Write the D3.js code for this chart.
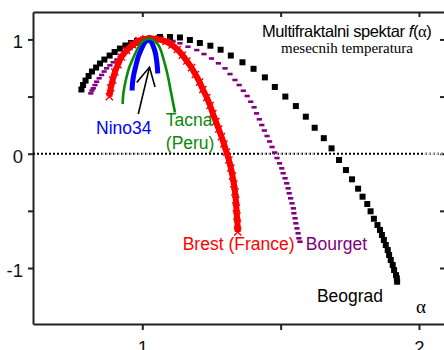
<!DOCTYPE html>
<html lang="sr">
<head>
<meta charset="utf-8">
<title>Multifraktalni spektar</title>
<style>
  body { margin: 0; background: #fff; }
  svg { display: block; }
  .axis path, .axis line { stroke: #222; stroke-width: 2; }
  .axis text { font: 18.5px "Liberation Sans", Arial, sans-serif; fill: #111; }
  .lbl { font: 17.5px "Liberation Sans", Arial, sans-serif; }
</style>
</head>
<body>
<svg id="chart" width="444" height="350"></svg>
<script src="https://cdn.jsdelivr.net/npm/d3@7"></script>
<script>
// spectra, [alpha, f(alpha)]
var beograd = [[0.780,0.562],[0.786,0.601],[0.795,0.640],[0.806,0.680],[0.818,0.719],[0.833,0.754],
  [0.847,0.789],[0.863,0.824],[0.882,0.859],[0.900,0.890],[0.919,0.920],[0.939,0.947],[0.959,0.969],
  [0.981,0.986],[1.003,0.999],[1.026,1.008],[1.064,1.021],[1.100,1.021],[1.136,1.017],[1.172,0.995],
  [1.208,0.969],[1.246,0.945],[1.283,0.910],[1.320,0.859],[1.362,0.800],[1.402,0.743],[1.443,0.668],
  [1.479,0.584],[1.517,0.500],[1.555,0.417],[1.591,0.324],[1.623,0.227],[1.656,0.136],[1.684,0.047],
  [1.711,-0.055],[1.736,-0.143],[1.758,-0.224],[1.780,-0.306],[1.796,-0.376],[1.813,-0.440],
  [1.825,-0.504],[1.837,-0.569],[1.850,-0.624],[1.859,-0.667],[1.866,-0.711],[1.873,-0.755],
  [1.880,-0.799],[1.887,-0.842],[1.892,-0.886],[1.898,-0.930],[1.905,-0.974],[1.910,-1.018],
  [1.917,-1.062],[1.920,-1.090],[1.921,-1.120]];

var bourget = [[0.814,0.528],[0.818,0.553],[0.823,0.572],[0.829,0.601],[0.835,0.630],[0.844,0.660],
  [0.853,0.689],[0.862,0.719],[0.871,0.747],[0.883,0.773],[0.895,0.800],[0.908,0.824],[0.920,0.849],
  [0.931,0.872],[0.944,0.892],[0.956,0.916],[0.967,0.936],[0.981,0.955],[0.995,0.973],[1.010,0.986],
  [1.028,0.995],[1.057,0.995],[1.082,0.992],[1.111,0.986],[1.136,0.966],[1.165,0.936],[1.197,0.907],
  [1.223,0.872],[1.250,0.833],[1.275,0.791],[1.299,0.747],[1.317,0.697],[1.335,0.645],[1.350,0.601],
  [1.365,0.551],[1.379,0.505],[1.392,0.455],[1.404,0.406],[1.413,0.353],[1.423,0.301],[1.432,0.251],
  [1.441,0.203],[1.451,0.155],[1.460,0.107],[1.469,0.059],[1.478,0.010],[1.487,-0.038],[1.496,-0.084],
  [1.504,-0.128],[1.509,-0.171],[1.516,-0.215],[1.522,-0.259],[1.527,-0.303],[1.531,-0.346],
  [1.536,-0.390],[1.541,-0.434],[1.546,-0.478],[1.548,-0.521],[1.552,-0.565],[1.555,-0.609],
  [1.559,-0.653],[1.563,-0.696],[1.566,-0.740],[1.570,-0.770]];

var brest = [[0.881,0.500],[0.886,0.575],[0.893,0.645],[0.901,0.715],[0.912,0.780],[0.925,0.846],
  [0.943,0.903],[0.965,0.955],[0.988,0.990],[1.013,1.005],[1.039,1.005],[1.064,0.997],[1.086,0.982],
  [1.107,0.951],[1.127,0.912],[1.145,0.863],[1.161,0.811],[1.178,0.754],[1.192,0.693],[1.207,0.627],
  [1.219,0.562],[1.233,0.492],[1.245,0.422],[1.255,0.352],[1.266,0.282],[1.276,0.216],[1.286,0.150],
  [1.295,0.085],[1.304,0.015],[1.313,-0.055],[1.320,-0.125],[1.326,-0.195],[1.331,-0.265],
  [1.335,-0.335],[1.338,-0.405],[1.340,-0.475],[1.342,-0.545],[1.344,-0.615],[1.345,-0.685]];

var tacna = [[0.929,0.435],[0.931,0.514],[0.936,0.592],[0.943,0.671],[0.952,0.750],[0.964,0.820],
  [0.977,0.890],[0.991,0.951],[1.004,0.990],[1.019,1.005],[1.033,1.003],[1.046,0.982],[1.059,0.947],
  [1.068,0.899],[1.075,0.842],[1.082,0.781],[1.089,0.715],[1.095,0.649],[1.100,0.584],[1.105,0.522],
  [1.110,0.461],[1.115,0.400],[1.118,0.360]];

var nino34 = [[0.963,0.553],[0.965,0.627],[0.970,0.702],[0.977,0.772],[0.985,0.846],[0.996,0.912],
  [1.008,0.969],[1.021,0.995],[1.031,0.982],[1.040,0.938],[1.047,0.885],[1.051,0.829],[1.054,0.767],
  [1.056,0.702]];

var xTicks = [1, 1.5, 2];
var yTicks = [-1, -0.5, 0, 0.5, 1];
var xLabels = {1: "1", 2: "2"};
var yLabels = {"-1": "-1", "0": "0", "1": "1"};

// light grey stretches on the zero line
var zeroGrey = [[0.855, 1.040], [1.425, 1.624], [2.020, 2.094]];

// arrow pointing at Nino34: tail, tip, two head ends
var arrow = [[0.9855, 0.347], [1.026, 0.758]];
var arrowHead = [[0.980, 0.623], [1.026, 0.758], [1.046, 0.584]];

var svg = d3.select("#chart");
var pLeft = 33, pRight = 445, pTop = 12, pBottom = 324;

var x = d3.scaleLinear().domain([0.605, 2.094]).range([pLeft, pRight]);
var y = d3.scaleLinear().domain([-1.49, 1.24]).range([pBottom, pTop]);

// axes
var xBottom = svg.append("g").attr("class", "axis")
  .attr("transform", "translate(0," + pBottom + ")")
  .call(d3.axisBottom(x).tickValues(xTicks).tickSize(6).tickSizeOuter(0)
    .tickFormat(function(d) { return xLabels[d] || ""; }));
xBottom.selectAll("text").attr("y", 30).attr("dy", null);

svg.append("g").attr("class", "axis")
  .attr("transform", "translate(0," + pTop + ")")
  .call(d3.axisTop(x).tickValues(xTicks).tickSize(-5).tickSizeOuter(0).tickFormat(""));

var yLeft = svg.append("g").attr("class", "axis")
  .attr("transform", "translate(" + pLeft + ",0)")
  .call(d3.axisLeft(y).tickValues(yTicks).tickSize(5).tickSizeOuter(0).tickPadding(5)
    .tickFormat(function(d) { return yLabels[String(d)] || ""; }));
yLeft.selectAll("text").attr("dy", "0.45em");

svg.append("g").attr("class", "axis")
  .attr("transform", "translate(" + pRight + ",0)")
  .call(d3.axisRight(y).tickValues(yTicks).tickSize(-5).tickSizeOuter(0).tickFormat(""));

// zero line
svg.append("line")
  .attr("x1", x(0.605)).attr("x2", x(2.094))
  .attr("y1", y(0)).attr("y2", y(0))
  .attr("stroke", "#000").attr("stroke-width", 2).attr("stroke-dasharray", "2,2");
svg.selectAll(".zg").data(zeroGrey).enter().append("line")
  .attr("x1", function(d) { return x(d[0]); }).attr("x2", function(d) { return x(d[1]); })
  .attr("y1", y(0)).attr("y2", y(0))
  .attr("stroke", "#c8c8c8").attr("stroke-width", 2).attr("stroke-dasharray", "2,2");

var line = d3.line()
  .x(function(d) { return x(d[0]); })
  .y(function(d) { return y(d[1]); })
  .curve(d3.curveCatmullRom);

// Beograd: square markers
svg.append("g").selectAll("rect").data(beograd).enter().append("rect")
  .attr("x", function(d) { return x(d[0]) - 3; })
  .attr("y", function(d) { return y(d[1]) - 3; })
  .attr("width", 6).attr("height", 6)
  .attr("fill", "#000");

// Bourget: short dashes
svg.append("g").selectAll("rect").data(bourget).enter().append("rect")
  .attr("x", function(d) { return x(d[0]) - 2.6; })
  .attr("y", function(d) { return y(d[1]) - 1.3; })
  .attr("width", 5.2).attr("height", 2.6)
  .attr("fill", "#800080");

// Brest: dense crosses, drawn as a thick band with crosses on top
svg.append("path").datum(brest)
  .attr("d", line).attr("fill", "none")
  .attr("stroke", "#ff0000").attr("stroke-width", 6);
svg.append("g").selectAll("path").data(brest).enter().append("path")
  .attr("d", function(d) {
    var cx = x(d[0]), cy = y(d[1]), r = 3.6;
    return "M" + (cx - r) + "," + (cy - r) + "L" + (cx + r) + "," + (cy + r) +
           "M" + (cx - r) + "," + (cy + r) + "L" + (cx + r) + "," + (cy - r);
  })
  .attr("stroke", "#ff0000").attr("stroke-width", 1.4);

// Nino34
svg.append("path").datum(nino34)
  .attr("d", line).attr("fill", "none")
  .attr("stroke", "#0000ff").attr("stroke-width", 5);

// Tacna
svg.append("path").datum(tacna)
  .attr("d", line).attr("fill", "none")
  .attr("stroke", "#0a8a0a").attr("stroke-width", 2.6);

// arrow
var straight = d3.line().x(function(d) { return x(d[0]); }).y(function(d) { return y(d[1]); });
svg.append("path").datum(arrow)
  .attr("d", straight).attr("fill", "none").attr("stroke", "#000").attr("stroke-width", 1.6);
svg.append("path").datum(arrowHead)
  .attr("d", straight).attr("fill", "none").attr("stroke", "#000").attr("stroke-width", 1.6);

// labels
var labels = [
  { t: "Nino34", a: 0.833, f: 0.170, c: "#0000ff" },
  { t: "Tacna", a: 1.085, f: 0.245, c: "#0a8a0a" },
  { t: "(Peru)", a: 1.085, f: 0.045, c: "#0a8a0a" },
  { t: "Brest (France)", a: 1.146, f: -0.843, c: "#ff0000" },
  { t: "Bourget", a: 1.591, f: -0.843, c: "#800080" },
  { t: "Beograd", a: 1.631, f: -1.295, c: "#000" }
];
svg.selectAll(".lbl").data(labels).enter().append("text")
  .attr("class", "lbl")
  .attr("x", function(d) { return x(d.a); })
  .attr("y", function(d) { return y(d.f); })
  .attr("fill", function(d) { return d.c; })
  .text(function(d) { return d.t; });

svg.append("text")
  .attr("x", x(1.989)).attr("y", y(-1.394))
  .style("font", "19px 'Liberation Serif', serif")
  .text("α");

// title box
var title = svg.append("text")
  .attr("x", 262).attr("y", 36.5)
  .style("font", "16.5px 'Liberation Sans', Arial, sans-serif")
  .style("letter-spacing", "-0.4px");
title.append("tspan").text("Multifraktalni spektar ");
title.append("tspan").style("font-style", "italic").text("f");
title.append("tspan").text("(");
title.append("tspan").style("font-family", "'Liberation Serif', serif").text("α");
title.append("tspan").text(")");

svg.append("text")
  .attr("x", 281).attr("y", 52.5)
  .style("font", "15px 'Liberation Serif', 'Times New Roman', serif")
  .text("mesecnih temperatura");
</script>
</body>
</html>
